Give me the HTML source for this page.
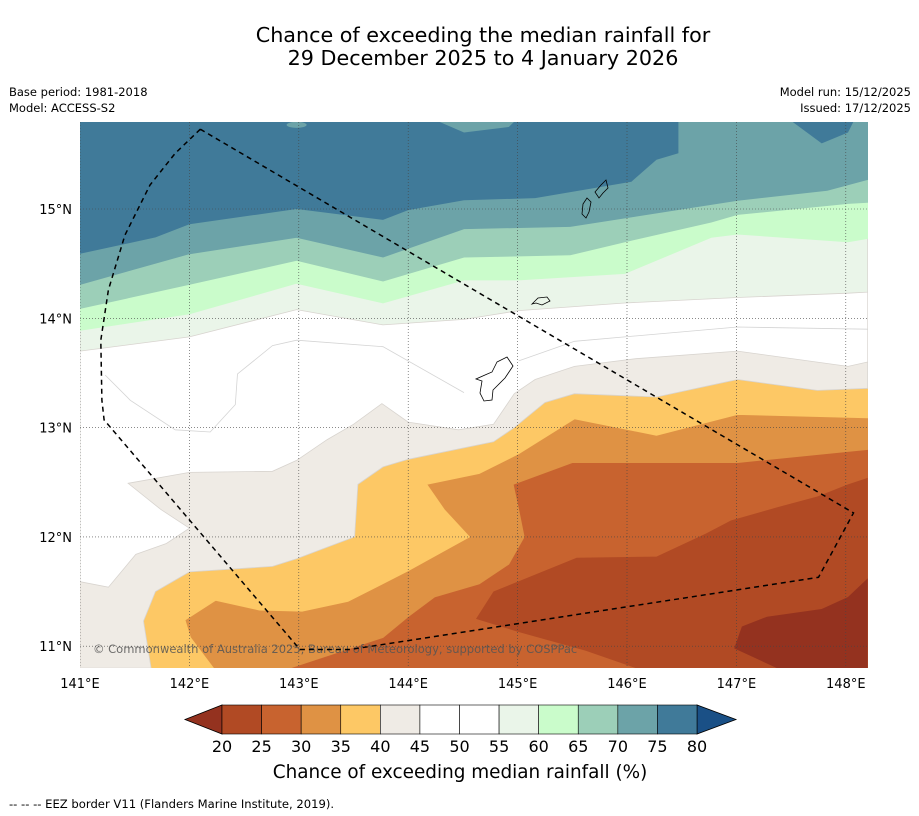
<!DOCTYPE html>
<html><head><meta charset="utf-8"><style>
html,body{margin:0;padding:0;background:#fff;}
svg{display:block;font-family:"DejaVu Sans","Liberation Sans",sans-serif;}
</style></head><body>
<svg id="svg" width="919" height="816" viewBox="0 0 919 816">
<defs><clipPath id="mapclip"><rect x="80" y="122" width="788" height="546"/></clipPath></defs>
<text x="483" y="42" text-anchor="middle" font-size="20.7" fill="#000">Chance of exceeding the median rainfall for</text>
<text x="483" y="65" text-anchor="middle" font-size="20.7" fill="#000">29 December 2025 to 4 January 2026</text>
<text x="9" y="96" font-size="11.5">Base period: 1981-2018</text>
<text x="9" y="112" font-size="11.5">Model: ACCESS-S2</text>
<text x="911" y="96" font-size="11.5" text-anchor="end">Model run: 15/12/2025</text>
<text x="911" y="112" font-size="11.5" text-anchor="end">Issued: 17/12/2025</text>
<g id="map" clip-path="url(#mapclip)"></g>
<g id="axes"></g>
<g id="cbar"></g>
<text x="460" y="778" text-anchor="middle" font-size="18.4">Chance of exceeding median rainfall (%)</text>
<text x="9" y="808" font-size="11.6">--  --  -- EEZ border V11 (Flanders Marine Institute, 2019).</text>
</svg>
<script>
const levels=[20,25,30,35,40,45,50,55,60,65,70,75,80];
const levelColors=['#b14a24','#c8632f','#df9244','#fdc865','#efebe5','#ffffff','#ffffff','#eaf5e9','#cafccb','#9ccfb8','#6ca3a8','#407a99'];
const underColor='#94321f', overColor='#1a5086';
const lonTicks=[141,142,143,144,145,146,147,148];
const latTicks=[11,12,13,14,15];
const c30=[[148.2,12.80],[147.01,12.68],[145.50,12.68],[144.96,12.48],[145.01,12.25],[145.06,12.00],[144.92,11.75],[144.65,11.57],[144.24,11.45],[144.00,11.27],[143.77,11.08],[142.92,10.80]];
const c35=[[148.2,13.09],[147.01,13.12],[146.27,12.93],[145.52,13.08],[145.01,12.76],[144.65,12.58],[144.17,12.48],[144.33,12.25],[144.56,12.00],[144.00,11.69],[143.45,11.41],[143.03,11.32],[142.64,11.33],[142.24,11.42],[141.96,11.24],[142.01,11.08],[142.22,10.80]];
const c40=[[148.2,13.36],[147.74,13.34],[147.01,13.44],[146.27,13.28],[145.52,13.31],[145.25,13.23],[144.97,13.00],[144.78,12.87],[144.00,12.71],[143.77,12.64],[143.54,12.48],[143.51,12.00],[142.98,11.80],[142.76,11.73],[142.00,11.68],[141.69,11.50],[141.58,11.23],[141.65,10.80]];
const c45=[[148.2,13.60],[148.02,13.56],[147.01,13.70],[146.08,13.63],[145.52,13.56],[145.16,13.44],[144.97,13.31],[144.78,13.03],[144.46,12.98],[144.00,13.05],[143.76,13.22],[143.50,13.03],[143.26,12.89],[142.98,12.70],[142.76,12.60],[142.00,12.59],[141.44,12.49],[141.74,12.25],[142.00,12.08],[141.79,11.94],[141.51,11.84],[141.26,11.54],[141.00,11.59]];
const c50=[[141.23,13.48],[141.46,13.25],[141.87,12.98],[142.19,12.96],[142.42,13.21],[142.44,13.49],[142.76,13.75],[142.98,13.80],[143.77,13.74],[144.51,13.32]];
const c50b=[[145.01,13.61],[145.52,13.79],[147.01,13.92],[148.2,13.90]];
const c55=[[148.2,14.24],[148.02,14.23],[147.01,14.19],[145.98,14.14],[145.01,14.07],[144.51,13.99],[143.77,13.94],[142.98,14.08],[142.00,13.83],[141.00,13.70]];
const c60=[[148.2,14.73],[148.02,14.70],[147.01,14.77],[146.77,14.74],[145.98,14.41],[145.01,14.35],[144.51,14.35],[143.77,14.14],[142.98,14.32],[142.00,14.04],[141.00,13.89]];
const c65=[[148.2,15.06],[148.02,15.05],[147.01,14.95],[146.77,14.88],[145.98,14.70],[145.48,14.58],[144.51,14.56],[143.77,14.34],[142.98,14.53],[142.00,14.31],[141.00,14.09]];
const c70=[[148.2,15.27],[147.83,15.17],[147.01,15.08],[145.48,14.84],[144.51,14.82],[143.77,14.56],[142.98,14.74],[142.00,14.59],[141.00,14.31]];
const c75=[[146.47,15.8],[146.47,15.51],[146.27,15.45],[146.04,15.25],[145.16,15.10],[144.51,15.08],[144.00,14.99],[143.77,14.90],[142.98,15.00],[142.00,14.86],[141.69,14.74],[141.00,14.59]];
const c75b=[[147.51,15.8],[147.78,15.60],[148.02,15.70],[148.07,15.8]];
const c70blob=[[144.28,15.8],[144.51,15.70],[144.92,15.75],[144.97,15.8]];
const c25low=[[148.2,12.54],[148.02,12.48],[147.74,12.37],[147.37,12.27],[146.95,12.15],[146.72,12.03],[146.27,11.82],[145.54,11.81],[144.78,11.50],[144.62,11.25],[145.01,11.13],[145.62,10.96],[146.08,10.80],[148.2,10.80]];
const c20low=[[147.37,10.80],[146.98,10.98],[147.05,11.18],[147.28,11.27],[147.78,11.34],[148.02,11.45],[148.2,11.62],[148.2,10.80]];
const eez=[[142.10,15.73],[148.07,12.22],[147.75,11.63],[143.47,10.97],[143.01,10.97],[141.22,13.07],[141.20,13.25],[141.19,13.80],[141.26,14.26],[141.41,14.76],[141.64,15.22],[141.87,15.51],[142.10,15.73]];

const X=lon=>80+(lon-141)*109.4;
const Y=lat=>209-(lat-15)*109.3;
const NS='http://www.w3.org/2000/svg';
const map=document.getElementById('map'),axes=document.getElementById('axes'),cbar=document.getElementById('cbar');
function mk(tag,attrs,parent){const e=document.createElementNS(NS,tag);for(const k in attrs)e.setAttribute(k,attrs[k]);parent.appendChild(e);return e;}
function pts(a){return a.map(p=>X(p[0]).toFixed(1)+','+Y(p[1]).toFixed(1)).join(' ');}
function superPoly(b){const a=b.slice();const last=a[a.length-1];if(last[1]<=10.8)a.push([141,10.8]);a.push([141,15.8],[148.2,15.8]);return a;}

let r=mk('rect',{x:80,y:122,width:788,height:546,fill:levelColors[1]},map);


const bands=[[c30,2,'band-30-35'],[c35,3,'band-35-40'],[c40,4,'band-40-45'],[c45,5,'band-45-55'],[c55,7,'band-55-60'],[c60,8,'band-60-65'],[c65,9,'band-65-70'],[c70,10,'band-70-75']];
bands.forEach(b=>{
  const p=mk('polygon',{points:pts(superPoly(b[0])),fill:levelColors[b[1]],stroke:b[1]>=4&&b[1]<=7?'#d8d4cf':levelColors[b[1]],'stroke-width':0.8},map);
  
  
});
[c50,c50b].forEach(c=>{const l=mk('polyline',{points:pts(c),fill:'none',stroke:'#d4d4d4','stroke-width':0.8},map);

});
let p75=mk('polygon',{points:pts(c75.concat([[141,15.8]])),fill:levelColors[11]},map);


let p75b=mk('polygon',{points:pts(c75b),fill:levelColors[11]},map);


let p70b=mk('polygon',{points:pts(c70blob),fill:levelColors[10]},map);


let el=mk('ellipse',{cx:X(142.98),cy:Y(15.77),rx:10,ry:3,fill:levelColors[10]},map);


let p25=mk('polygon',{points:pts(c25low),fill:levelColors[0]},map);


let p20=mk('polygon',{points:pts(c20low),fill:underColor},map);



const isl=[['M497,362 L507,357 L513,366 L505,378 L493,390 L492,400 L484,401 L480,393 L482,381 L476,379 L485,375 L492,372 Z','guam'],
['M532,304 L538,298 L547,297 L550,301 L542,305 L536,303 Z','rota'],
['M583,204 L587,198 L591,202 L589,212 L586,218 L582,214 Z','tinian'],
['M595,192 L601,185 L606,180 L608,188 L603,193 L599,198 Z','saipan']];
isl.forEach(d=>{const e=mk('path',{d:d[0],fill:'none',stroke:'#000','stroke-width':0.8},map);

});
let cp=mk('text',{x:93,y:653,'font-size':11.5,fill:'#555','fill-opacity':0.85},map);
cp.textContent='© Commonwealth of Australia 2025, Bureau of Meteorology, supported by COSPPac';



lonTicks.forEach(l=>{const g=mk('line',{x1:X(l),x2:X(l),y1:122,y2:668,stroke:'#444','stroke-width':0.6,'stroke-dasharray':'1,2'},map);


const t=mk('text',{x:X(l),y:688,'text-anchor':'middle','font-size':13},axes);t.textContent=l+'°E';

});
latTicks.forEach(l=>{const g=mk('line',{x1:80,x2:868,y1:Y(l),y2:Y(l),stroke:'#444','stroke-width':0.6,'stroke-dasharray':'1,2'},map);


const t=mk('text',{x:72,y:Y(l)+5,'text-anchor':'end','font-size':13},axes);t.textContent=l+'°N';

});
let ez=mk('polyline',{points:pts(eez),fill:'none',stroke:'#000','stroke-width':1.5,'stroke-dasharray':'5,4'},map);



const cbX0=222,cbX1=697,cbY=705,cbH=29;
const cx=v=>cbX0+(v-levels[0])/(levels[levels.length-1]-levels[0])*(cbX1-cbX0);
let tl=mk('polygon',{points:`${cbX0},${cbY} ${cbX0},${cbY+cbH} 185,${cbY+cbH/2}`,fill:underColor,stroke:'#000','stroke-width':0.8},cbar);


let tr=mk('polygon',{points:`${cbX1},${cbY} ${cbX1},${cbY+cbH} 736,${cbY+cbH/2}`,fill:overColor,stroke:'#000','stroke-width':0.8},cbar);


for(let i=0;i<levelColors.length;i++){
  const b=mk('rect',{x:cx(levels[i]),y:cbY,width:cx(levels[i+1])-cx(levels[i]),height:cbH,fill:levelColors[i],stroke:'#000','stroke-width':0.6},cbar);
  
  
}
levels.forEach(v=>{const t=mk('text',{x:cx(v),y:752,'text-anchor':'middle','font-size':16},cbar);t.textContent=v;

});
</script>
</body></html>
